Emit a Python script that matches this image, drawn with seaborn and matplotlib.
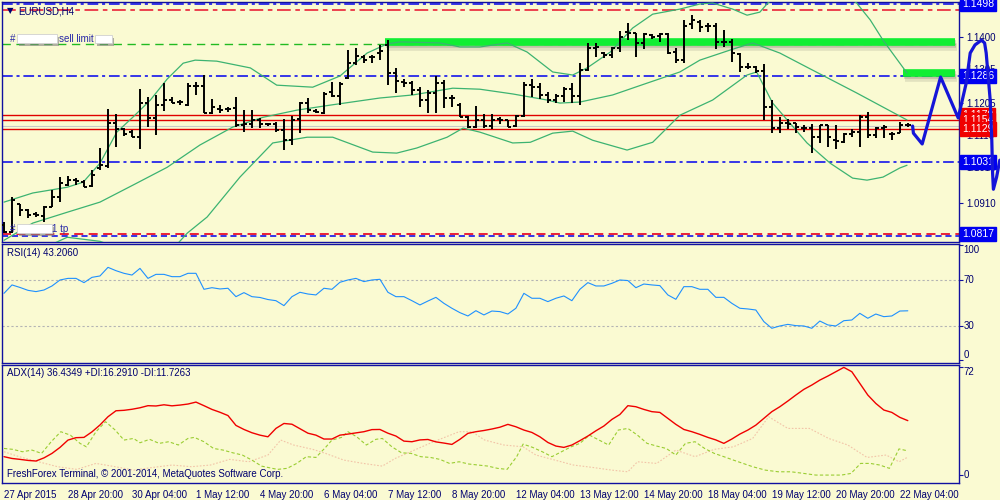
import matplotlib
matplotlib.use("Agg")
import matplotlib.pyplot as plt
import matplotlib.patheffects as pe
import matplotlib.transforms as mtransforms
from matplotlib.patches import Rectangle
import pandas as pd
import seaborn as sns

# EURUSD H4 bars, 27 Apr 2015 12:00 .. 22 May 2015 08:00
opens = [1.0844, 1.0823, 1.0906, 1.0888, 1.0876, 1.0871, 1.0897, 1.0927, 1.0962, 1.0977,
         1.0971, 1.0959, 1.1013, 1.1018, 1.1146, 1.1128, 1.1119, 1.1104, 1.1205, 1.1161,
         1.1199, 1.1214, 1.1208, 1.1199, 1.1255, 1.1255, 1.1175, 1.1187, 1.1187, 1.1190,
         1.1140, 1.1143, 1.1155, 1.1143, 1.1143, 1.1125, 1.1095, 1.1158, 1.1205, 1.1181,
         1.1175, 1.1237, 1.1226, 1.1279, 1.1323, 1.1341, 1.1341, 1.1353, 1.1377, 1.1294,
         1.1267, 1.1264, 1.1243, 1.1214, 1.1235, 1.1264, 1.1220, 1.1199, 1.1163, 1.1134,
         1.1155, 1.1137, 1.1158, 1.1155, 1.1137, 1.1166, 1.1258, 1.1252, 1.1229, 1.1214,
         1.1226, 1.1246, 1.1226, 1.1303, 1.1368, 1.1353, 1.1347, 1.1368, 1.1415, 1.1412,
         1.1383, 1.1406, 1.1403, 1.1409, 1.1356, 1.1332, 1.1439, 1.1445, 1.1433, 1.1433,
         1.1386, 1.1386, 1.1350, 1.1311, 1.1311, 1.1300, 1.1193, 1.1131, 1.1146, 1.1146,
         1.1131, 1.1131, 1.1104, 1.1140, 1.1095, 1.1089, 1.1113, 1.1119, 1.1163, 1.1110,
         1.1131, 1.1113, 1.1116, 1.1140]
highs = [1.0853, 1.0927, 1.0906, 1.0891, 1.0882, 1.0900, 1.0947, 1.0986, 1.0989, 1.0983,
         1.0977, 1.1007, 1.1072, 1.1187, 1.1172, 1.1131, 1.1125, 1.1246, 1.1223, 1.1229,
         1.1264, 1.1223, 1.1214, 1.1264, 1.1267, 1.1288, 1.1217, 1.1199, 1.1193, 1.1223,
         1.1184, 1.1184, 1.1161, 1.1146, 1.1149, 1.1158, 1.1166, 1.1208, 1.1220, 1.1187,
         1.1237, 1.1267, 1.1267, 1.1362, 1.1368, 1.1347, 1.1347, 1.1377, 1.1391, 1.1309,
         1.1276, 1.1270, 1.1252, 1.1243, 1.1285, 1.1273, 1.1229, 1.1205, 1.1166, 1.1196,
         1.1172, 1.1172, 1.1163, 1.1155, 1.1169, 1.1267, 1.1276, 1.1264, 1.1237, 1.1232,
         1.1252, 1.1264, 1.1323, 1.1383, 1.1383, 1.1356, 1.1371, 1.1418, 1.1442, 1.1412,
         1.1412, 1.1409, 1.1412, 1.1412, 1.1368, 1.1451, 1.1465, 1.1451, 1.1442, 1.1442,
         1.1421, 1.1394, 1.1353, 1.1323, 1.1314, 1.1320, 1.1214, 1.1163, 1.1158, 1.1146,
         1.1140, 1.1143, 1.1140, 1.1140, 1.1140, 1.1116, 1.1128, 1.1169, 1.1178, 1.1134,
         1.1140, 1.1119, 1.1149, 1.1146]
lows = [1.0820, 1.0820, 1.0871, 1.0865, 1.0868, 1.0853, 1.0897, 1.0912, 1.0959, 1.0962,
        1.0956, 1.0956, 1.1007, 1.1013, 1.1075, 1.1107, 1.1104, 1.1069, 1.1134, 1.1110,
        1.1181, 1.1205, 1.1199, 1.1196, 1.1229, 1.1175, 1.1172, 1.1175, 1.1178, 1.1134,
        1.1119, 1.1131, 1.1131, 1.1137, 1.1119, 1.1066, 1.1081, 1.1116, 1.1175, 1.1175,
        1.1172, 1.1223, 1.1199, 1.1276, 1.1317, 1.1323, 1.1323, 1.1332, 1.1258, 1.1235,
        1.1252, 1.1229, 1.1193, 1.1175, 1.1175, 1.1190, 1.1193, 1.1163, 1.1131, 1.1131,
        1.1131, 1.1128, 1.1143, 1.1134, 1.1134, 1.1163, 1.1223, 1.1217, 1.1205, 1.1205,
        1.1208, 1.1205, 1.1199, 1.1300, 1.1341, 1.1338, 1.1338, 1.1356, 1.1391, 1.1341,
        1.1365, 1.1394, 1.1386, 1.1350, 1.1323, 1.1323, 1.1424, 1.1415, 1.1415, 1.1365,
        1.1371, 1.1326, 1.1297, 1.1306, 1.1294, 1.1155, 1.1116, 1.1116, 1.1128, 1.1116,
        1.1119, 1.1057, 1.1087, 1.1075, 1.1069, 1.1087, 1.1104, 1.1075, 1.1101, 1.1101,
        1.1101, 1.1095, 1.1116, 1.1134]
closes = [1.0823, 1.0918, 1.0888, 1.0873, 1.0873, 1.0897, 1.0927, 1.0968, 1.0977, 1.0974,
          1.0956, 1.0992, 1.1021, 1.1146, 1.1128, 1.1113, 1.1104, 1.1205, 1.1161, 1.1199,
          1.1214, 1.1205, 1.1208, 1.1255, 1.1255, 1.1175, 1.1193, 1.1184, 1.1187, 1.1140,
          1.1143, 1.1155, 1.1143, 1.1143, 1.1125, 1.1095, 1.1155, 1.1205, 1.1184, 1.1178,
          1.1232, 1.1226, 1.1261, 1.1323, 1.1344, 1.1332, 1.1341, 1.1359, 1.1294, 1.1270,
          1.1264, 1.1243, 1.1214, 1.1235, 1.1264, 1.1220, 1.1220, 1.1163, 1.1134, 1.1155,
          1.1137, 1.1155, 1.1155, 1.1134, 1.1166, 1.1258, 1.1252, 1.1229, 1.1214, 1.1226,
          1.1246, 1.1226, 1.1303, 1.1368, 1.1371, 1.1347, 1.1368, 1.1400, 1.1412, 1.1383,
          1.1409, 1.1400, 1.1409, 1.1353, 1.1332, 1.1433, 1.1451, 1.1430, 1.1433, 1.1386,
          1.1386, 1.1353, 1.1311, 1.1311, 1.1300, 1.1193, 1.1131, 1.1146, 1.1143, 1.1134,
          1.1131, 1.1104, 1.1140, 1.1104, 1.1092, 1.1113, 1.1119, 1.1163, 1.1110, 1.1131,
          1.1134, 1.1113, 1.1140, 1.1140]

# Bollinger bands (bar position, price)
upper_bar = [0, 3.6, 7.9, 9.9, 12.0, 14.1, 16.1, 18.3, 20.4, 22.4, 23.9, 26.6, 30.8, 34.1, 38.6,
             42.0, 45.4, 47.9, 49.5, 54.5, 57.0, 59.5, 62.9, 65.4, 68.6, 71.1, 72.9, 75.8, 78.6,
             81.1, 84.5, 87.0, 88.6, 91.1, 92.9, 94.5, 95.5, 98.3, 102.6, 106.6, 108.3, 109.9,
             112.0, 112.9]
upper_price = [1.0912, 1.0939, 1.0956, 1.0971, 1.1027, 1.1119, 1.1163, 1.1214, 1.1276, 1.1323,
               1.1332, 1.1329, 1.1309, 1.1258, 1.1252, 1.1285, 1.1353, 1.1380, 1.1386, 1.1383,
               1.1371, 1.1371, 1.1383, 1.1356, 1.1297, 1.1288, 1.1309, 1.1356, 1.1427, 1.1468,
               1.1483, 1.1498, 1.1501, 1.1483, 1.1465, 1.1474, 1.1501, 1.1554, 1.1569, 1.1501,
               1.1451, 1.1391, 1.1323, 1.1294]
middle_bar = [0, 3.6, 7.9, 12.0, 16.1, 20.4, 24.5, 28.6, 32.4, 36.6, 40.8, 47.0, 51.1, 56.1,
              59.5, 63.6, 67.9, 69.5, 72.0, 76.1, 80.4, 84.5, 87.0, 90.8, 93.6, 97.0, 100.4,
              106.6, 112.9]
middle_price = [1.0799, 1.0850, 1.0882, 1.0912, 1.0962, 1.1015, 1.1081, 1.1134, 1.1163, 1.1184,
                1.1199, 1.1220, 1.1229, 1.1249, 1.1246, 1.1232, 1.1214, 1.1205, 1.1208, 1.1229,
                1.1264, 1.1297, 1.1332, 1.1362, 1.1383, 1.1353, 1.1311, 1.1235, 1.1155]
lower_bar = [0, 3.6, 7.9, 12.0, 16.1, 20.4, 22.9, 25.4, 29.5, 33.6, 37.9, 41.1, 46.1, 49.1,
             51.6, 55.4, 57.4, 59.5, 63.6, 65.8, 68.6, 71.1, 73.6, 77.9, 81.1, 84.5, 88.6,
             92.9, 94.1, 96.1, 100.4, 103.3, 106.1, 107.9, 109.9, 112.0, 112.9]
lower_price = [1.0687, 1.0761, 1.0808, 1.0796, 1.0761, 1.0755, 1.0820, 1.0868, 1.0986, 1.1087,
               1.1104, 1.1104, 1.1060, 1.1057, 1.1072, 1.1104, 1.1131, 1.1119, 1.1087, 1.1089,
               1.1116, 1.1122, 1.1095, 1.1066, 1.1089, 1.1169, 1.1214, 1.1288, 1.1297, 1.1205,
               1.1087, 1.1027, 1.0983, 1.0977, 1.0986, 1.1013, 1.1021]

# horizontal levels
blue_levels = [1.1498, 1.1286, 1.1031, 1.0813]
red_top_level = 1.1480
red_tp_level = 1.0817
sell_limit_level = 1.1380
order_levels = [1.1170, 1.1154, 1.1129]
bid_level = 1.1137
zone_price = [1.1386, 1.1293]
zone_start = [47.6, 112.4]
zone_end = 118.9

# hand-drawn forecast path
forecast_bar = [113.6, 113.7, 114.8, 117.1, 119.3, 120.3, 120.8, 121.4, 122.2, 122.6, 122.8,
                123.3, 123.5, 123.6, 123.7, 124.1, 124.5]
forecast_price = [1.1137, 1.1116, 1.1084, 1.1282, 1.1161, 1.1264, 1.1353, 1.1377, 1.1391,
                  1.1383, 1.1353, 1.1214, 1.1095, 1.0998, 1.0950, 1.0986, 1.1036]

price_ticks = [1.1400, 1.1305, 1.1205, 1.1110, 1.1015, 1.0910]
blue_labels = [1.1498, 1.1286, 1.1031, 1.0817]
red_labels = [1.1170, 1.1154, 1.1129]

# RSI(14) per bar
rsi = [58.4, 65.7, 63.5, 61.0, 59.9, 61.3, 64.8, 70.0, 71.4, 71.4,
       67.7, 72.3, 73.5, 81.0, 78.1, 75.8, 74.3, 80.1, 71.4, 74.9,
       74.9, 72.9, 72.9, 75.8, 75.8, 61.9, 63.3, 62.2, 62.8, 55.5,
       59.0, 55.5, 54.8, 53.0, 52.0, 47.7, 55.5, 59.3, 57.8, 57.0,
       62.8, 61.9, 68.0, 70.0, 71.4, 68.6, 70.0, 70.6, 59.3, 55.5,
       55.5, 52.0, 48.3, 51.7, 54.9, 49.7, 45.4, 41.6, 38.7, 43.3,
       39.6, 43.0, 42.5, 40.4, 45.4, 58.4, 54.1, 54.1, 51.2, 54.1,
       56.1, 52.0, 61.9, 67.7, 64.8, 64.8, 67.1, 70.0, 69.5, 63.3,
       66.5, 65.7, 65.1, 57.0, 53.2, 64.2, 64.2, 61.9, 61.9, 54.9,
       54.9, 49.7, 45.4, 44.8, 43.9, 33.8, 28.0, 30.0, 31.4, 30.3,
       30.0, 28.0, 34.3, 30.9, 30.0, 34.6, 35.2, 41.0, 36.7, 40.4,
       38.1, 38.7, 43.0, 43.2]

# ADX(14) per bar
adx = [12.3, 11.1, 10.5, 9.8, 9.4, 11.5, 14.5, 18.5, 23.4, 25.0,
       25.2, 28.9, 33.5, 39.0, 43.0, 43.3, 44.0, 45.0, 46.4, 46.2,
       47.0, 46.3, 46.8, 47.5, 48.8, 46.4, 43.9, 42.0, 39.8, 33.2,
       30.5, 28.3, 26.7, 25.6, 31.2, 34.5, 34.0, 31.0, 28.0, 26.7,
       24.1, 24.1, 26.7, 27.4, 28.2, 29.0, 30.4, 30.5, 28.0, 26.1,
       22.7, 22.3, 23.5, 23.8, 22.2, 21.4, 20.5, 23.9, 27.9, 29.0,
       29.8, 30.8, 32.0, 33.9, 32.3, 30.1, 28.5, 25.6, 21.8, 19.4,
       18.5, 20.1, 23.0, 26.1, 29.6, 32.8, 37.2, 40.5, 46.4, 45.7,
       43.9, 42.4, 41.9, 37.9, 33.9, 30.5, 29.0, 27.2, 25.2, 23.5,
       21.2, 24.1, 27.4, 30.1, 33.4, 37.9, 42.4, 45.7, 49.5, 53.5,
       57.3, 60.2, 63.5, 66.2, 69.1, 72.0, 69.1, 61.3, 53.5, 47.9,
       43.5, 41.9, 38.6, 36.4]

plus_di_bar = [0, 1.1, 2.3, 3.5, 4.7, 5.9, 7.1, 8.3, 9.5, 10.3,
               11.5, 12.7, 13.9, 15.0, 16.2, 17.0, 18.2, 19.4, 20.6, 21.8,
               23.0, 23.8, 25.0, 26.2, 27.4, 28.6, 29.8, 31.0, 32.2, 33.0,
               34.2, 35.4, 36.6, 37.8, 39.0, 40.2, 41.0, 42.2, 43.0, 44.1,
               45.3, 46.5, 47.3, 48.5, 49.7, 50.9, 52.1, 53.3, 54.5, 55.7,
               56.9, 58.1, 59.3, 60.5, 61.7, 62.9, 64.1, 64.9, 66.1, 67.3,
               68.5, 69.7, 70.9, 72.0, 73.2, 74.4, 75.6, 76.8, 78.0, 79.2,
               80.4, 81.6, 82.8, 84.0, 85.2, 86.4, 87.6, 88.8, 90.0, 91.2,
               92.4, 93.6, 95.2, 96.8, 98.4, 100.0, 101.5, 103.1, 104.7, 105.9,
               107.1, 108.3, 109.5, 110.7, 111.9, 112.9]
plus_di = [17.8, 17.2, 15.6, 16.7, 14.5, 22.3, 29.0, 26.7, 21.2, 18.9,
           29.0, 35.7, 30.1, 23.4, 24.5, 21.6, 23.9, 21.2, 22.3, 20.1,
           24.5, 25.2, 22.3, 17.8, 16.7, 14.9, 13.4, 10.0, 6.0, 5.1,
           3.8, 4.5, 7.8, 12.3, 11.8, 18.5, 23.4, 25.2, 29.0, 25.6,
           20.1, 23.9, 24.5, 18.9, 14.9, 14.5, 12.3, 11.8, 10.5, 7.8,
           8.9, 7.4, 6.7, 6.0, 4.5, 3.8, 12.3, 20.7, 18.5, 15.6,
           12.3, 15.6, 18.9, 21.2, 26.7, 23.4, 20.1, 30.1, 31.2, 26.7,
           21.2, 19.4, 17.8, 13.4, 21.2, 22.3, 17.8, 14.5, 12.3, 10.0,
           7.8, 5.6, 3.3, 2.2, 2.2, 1.1, 0.0, 0.0, 0.0, 1.1,
           7.8, 7.8, 6.7, 4.5, 17.5, 16.3]
minus_di_bar = [0, 1.9, 4.3, 6.7, 9.1, 11.5, 13.9, 16.2, 18.6, 21.0,
                23.4, 25.8, 28.2, 30.6, 33.0, 34.6, 36.2, 38.6, 40.2, 42.5,
                44.9, 47.3, 48.9, 51.3, 53.7, 56.9, 58.5, 60.1, 62.5, 64.9,
                66.5, 68.9, 71.2, 73.6, 76.0, 78.0, 79.2, 81.6, 84.0, 86.4,
                88.8, 91.2, 93.6, 95.6, 98.0, 100.7, 103.1, 105.5, 107.9, 110.3,
                111.9, 112.9]
minus_di = [15.6, 12.3, 8.9, 5.6, 3.8, 7.8, 5.6, 3.3, 5.1, 6.7,
            5.6, 6.7, 10.5, 8.9, 13.4, 23.4, 20.1, 17.2, 14.5, 10.0,
            7.8, 6.0, 11.1, 16.7, 22.3, 29.0, 29.0, 23.4, 20.1, 18.9,
            13.4, 10.0, 6.7, 5.1, 3.3, 2.2, 8.9, 7.8, 16.7, 12.3,
            17.2, 18.9, 24.5, 39.0, 31.2, 31.2, 24.5, 20.1, 11.8, 13.4,
            8.9, 11.7]

date_ticks = list(range(0, 113, 8))
date_labels = ["27 Apr 2015", "28 Apr 20:00", "30 Apr 04:00", "1 May 12:00", "4 May 20:00",
               "6 May 04:00", "7 May 12:00", "8 May 20:00", "12 May 04:00", "13 May 12:00",
               "14 May 20:00", "18 May 04:00", "19 May 12:00", "20 May 20:00", "22 May 04:00"]

BG = "#FAFAD2"
FRAME = "#1010A0"
TXT = "#000070"
BB = "#3CB371"

sns.set_style("white")
plt.rcParams["font.family"] = ["Liberation Sans", "DejaVu Sans"]
plt.rcParams["font.size"] = 7

bars = pd.DataFrame({"open": opens, "high": highs, "low": lows, "close": closes})
bars["bar"] = range(len(bars))

fig = plt.figure(figsize=(10, 5), dpi=100, facecolor=BG)
ax_p = fig.add_axes([0.002, 0.516, 0.957, 0.480])
ax_r = fig.add_axes([0.002, 0.274, 0.957, 0.238])
ax_a = fig.add_axes([0.002, 0.034, 0.957, 0.236])


def fig_xy(x, y):
    return x / 1000, 1 - y / 500


# ---- price panel ----
ax = ax_p
for i, lvl in enumerate(blue_levels):
    style = (0, (7, 2.5, 2, 2.5)) if i < 3 else (0, (4, 2.5))
    ax.axhline(lvl, color="#0000EE", lw=1.1, ls=style, zorder=1)
ax.axhline(red_top_level, color="#E8102A", lw=1.1, ls=(0, (9, 3, 3, 3)), zorder=1)
ax.axhline(red_tp_level, color="#E8102A", lw=1.3, ls=(0, (5, 3)), zorder=1)
ax.axhline(sell_limit_level, color="#22BB22", lw=1.0, ls=(0, (6, 4)), zorder=1)
for lvl in order_levels:
    ax.axhline(lvl, color="#E00000", lw=1.0, zorder=1)
ax.axhline(bid_level, color="#C8C8C8", lw=0.8, zorder=1)

# order zones with a soft drop shadow
ax.hlines(zone_price, zone_start, zone_end, color="#11EE33", lw=5.5, zorder=2,
          path_effects=[pe.SimpleLineShadow(offset=(1, -1.5), shadow_color="#505050", alpha=0.22),
                        pe.SimpleLineShadow(offset=(1.5, -3.5), shadow_color="#505050", alpha=0.14),
                        pe.Normal()])

sns.lineplot(x=upper_bar, y=upper_price, ax=ax, color=BB, lw=0.9, zorder=3)
sns.lineplot(x=middle_bar, y=middle_price, ax=ax, color=BB, lw=0.9, zorder=3)
sns.lineplot(x=lower_bar, y=lower_price, ax=ax, color=BB, lw=0.9, zorder=3)

ax.vlines(bars["bar"], bars["low"], bars["high"], color="black", lw=1.4, zorder=4)
ax.hlines(bars["open"], bars["bar"] - 0.4, bars["bar"], color="black", lw=1.4, zorder=4)
ax.hlines(bars["close"], bars["bar"], bars["bar"] + 0.4, color="black", lw=1.4, zorder=4)

ax.set_ylim(1.0794, 1.1504)
ax.set_yticks(price_ticks)
ax.set_yticklabels([f"{v:.4f}" for v in price_ticks])

blend_p = mtransforms.blended_transform_factory(ax.transAxes, ax.transData)
for v in blue_labels:
    ax.text(1.0035, v, f"{v:.4f}", transform=blend_p, ha="left", va="center", color="white",
            fontsize=7.5, clip_on=False, zorder=6,
            bbox=dict(boxstyle="square,pad=0.18", fc="#0000F0", ec="#0000F0"))
for v in red_labels:
    ax.text(1.0035, v, f"{v:.4f}", transform=blend_p, ha="left", va="center", color="white",
            fontsize=7.5, clip_on=False, zorder=6,
            bbox=dict(boxstyle="square,pad=0.18", fc="#F00000", ec="#F00000"))

sns.lineplot(x=forecast_bar, y=forecast_price, ax=ax, color="#1515D8", lw=2.3, sort=False,
             estimator=None, zorder=10, clip_on=False)

# ---- RSI panel ----
ax = ax_r
ax.axhline(70, color="#B4B4B4", lw=0.8, ls=(0, (2, 2)))
ax.axhline(30, color="#B4B4B4", lw=0.8, ls=(0, (2, 2)))
sns.lineplot(x=bars["bar"], y=rsi, ax=ax, color="#1E90FF", lw=0.8)
ax.set_ylim(-2.2, 101.3)
ax.set_yticks([0, 30, 70, 100])
blend_r = mtransforms.blended_transform_factory(ax.transAxes, ax.transData)
for v, va in [(100, "top"), (70, "center"), (30, "center"), (0, "bottom")]:
    ax.text(1.0045, v, str(v), transform=blend_r, ha="left", va=va, color=TXT, fontsize=7,
            clip_on=False)

# ---- ADX panel ----
ax = ax_a
sns.lineplot(x=minus_di_bar, y=minus_di, ax=ax, color="#F2C4A8", lw=0.8, ls=(0, (1.5, 1.5)))
sns.lineplot(x=plus_di_bar, y=plus_di, ax=ax, color="#9ACD32", lw=0.8, ls=(0, (3, 2)))
sns.lineplot(x=bars["bar"], y=adx, ax=ax, color="#F00000", lw=1.0)
ax.set_ylim(-5.3, 73.6)
ax.set_yticks([0, 72])
blend_a = mtransforms.blended_transform_factory(ax.transAxes, ax.transData)
for v, va in [(72, "top"), (0, "center")]:
    ax.text(1.0045, v, str(v), transform=blend_a, ha="left", va=va, color=TXT, fontsize=7,
            clip_on=False)
ax.set_xticks(date_ticks)
ax.set_xticklabels(date_labels, ha="left")

for ax in (ax_p, ax_r, ax_a):
    ax.set_facecolor(BG)
    ax.set_xlim(-0.25, 119.4)
    ax.set_xlabel("")
    ax.set_ylabel("")
    ax.yaxis.tick_right()
    for s in ax.spines.values():
        s.set_visible(True)
        s.set_color(FRAME)
        s.set_linewidth(1.0)
    ax.tick_params(axis="y", direction="out", length=3, width=0.8, color=FRAME,
                   labelcolor=TXT, labelsize=7, pad=2)
ax_r.tick_params(axis="y", labelright=False)
ax_a.tick_params(axis="y", labelright=False)
for ax in (ax_p, ax_r):
    ax.tick_params(axis="x", bottom=False, labelbottom=False)
ax_a.tick_params(axis="x", direction="out", length=3, width=0.8, color=FRAME,
                 labelcolor=TXT, labelsize=7, pad=2)

# ---- texts ----
fig.text(*fig_xy(7, 11), "\u25bc", color=TXT, fontsize=6, va="center", family=["DejaVu Sans"])
fig.text(*fig_xy(18, 11), "EURUSD,H4", color=TXT, fontsize=7, va="center")
fig.text(*fig_xy(10, 38.5), "#", color="#2828A8", fontsize=7, va="center")
fig.text(*fig_xy(59, 38.5), "sell limit", color="#2828A8", fontsize=7, va="center")
fig.text(*fig_xy(10, 228.5), "#", color="#2828A8", fontsize=7, va="center")
fig.text(*fig_xy(52, 228.5), "1 tp", color="#2828A8", fontsize=7, va="center")
for x0, y0, w, h in [(17, 34, 40, 9), (95, 35, 17, 8), (17, 224, 35, 9)]:
    fx, fy = fig_xy(x0, y0 + h)
    fig.add_artist(Rectangle((fx, fy), w / 1000, h / 500, transform=fig.transFigure,
                             fc="white", ec="#D0D0D0", lw=0.6,
                             path_effects=[pe.SimplePatchShadow(offset=(1.5, -2), shadow_rgbFace="#808080",
                                                                alpha=0.6), pe.Normal()]))
fig.text(*fig_xy(7, 253), "RSI(14) 43.2060", color=TXT, fontsize=7, va="center")
fig.text(*fig_xy(7, 373), "ADX(14) 36.4349 +DI:16.2910 -DI:11.7263", color=TXT, fontsize=7,
         va="center")
fig.text(*fig_xy(7, 474), "FreshForex Terminal, \u00a9 2001-2014, MetaQuotes Software Corp.",
         color=TXT, fontsize=7, va="center")

fig.savefig("out.png", dpi=100, facecolor=BG)
